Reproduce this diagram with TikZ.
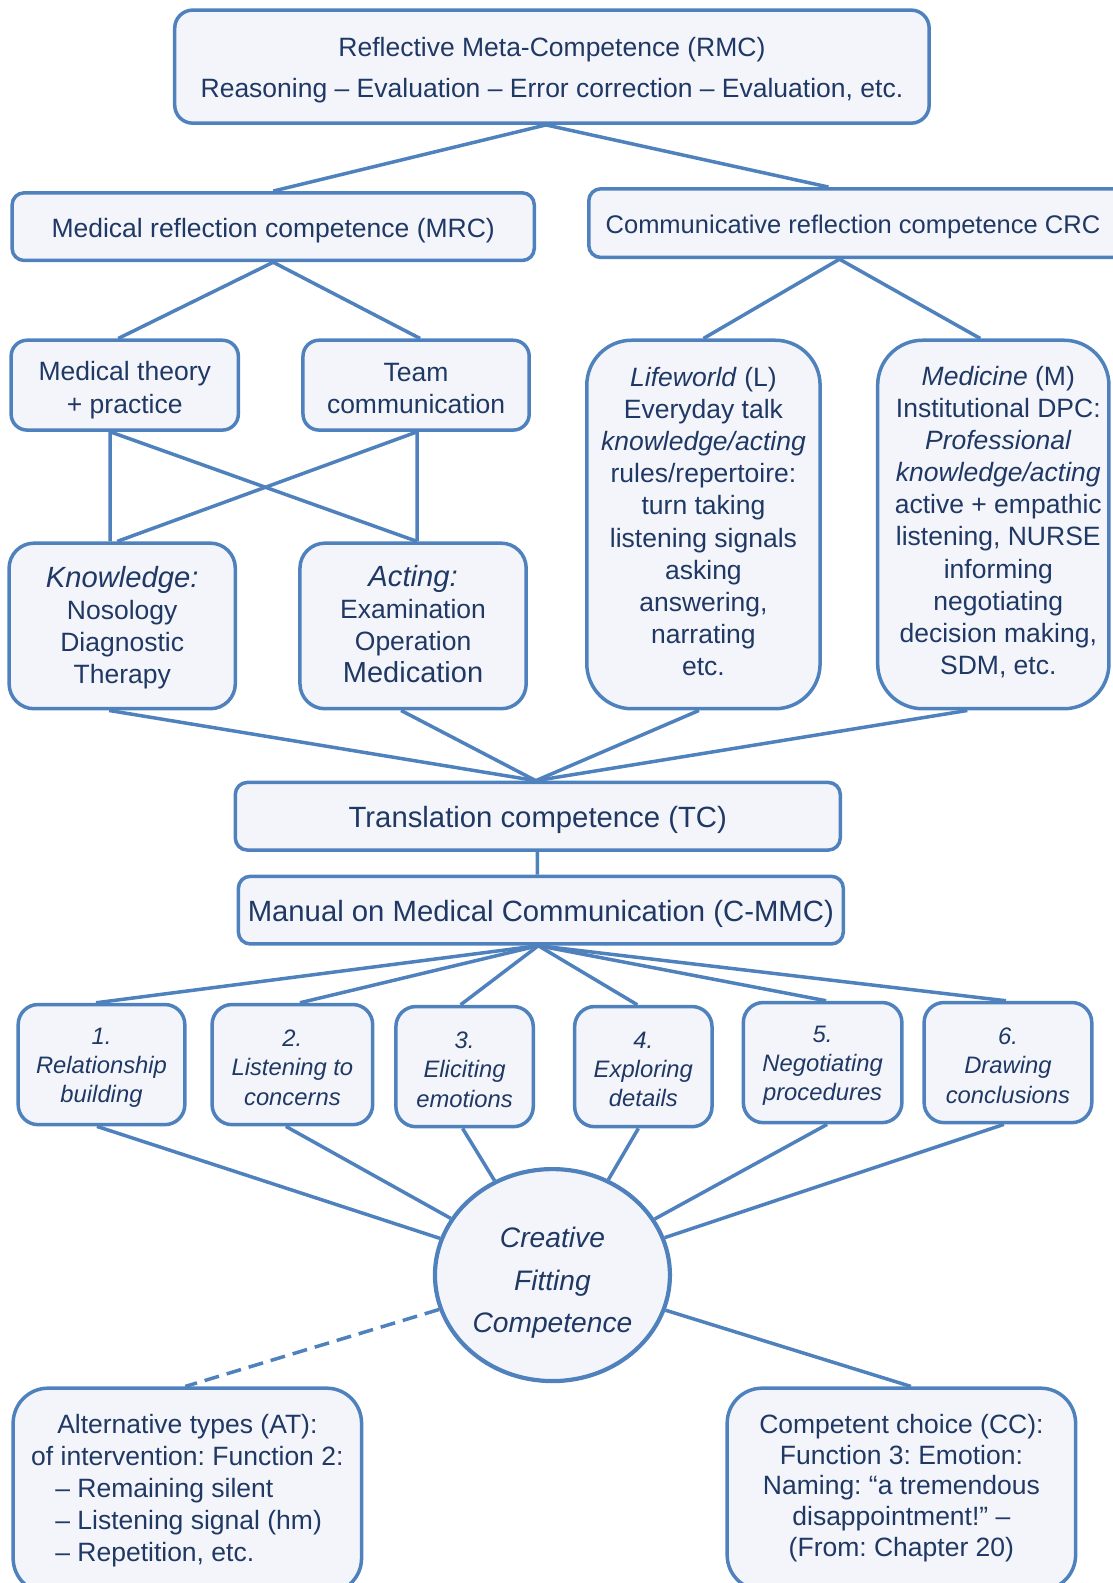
\documentclass[tikz,border=0pt]{standalone}
\usepackage{fontspec}
\setmainfont{Liberation Sans}
\frenchspacing
\usetikzlibrary{shapes.geometric,calc}
\definecolor{edge}{RGB}{79,129,189}
\definecolor{boxfill}{RGB}{243,245,251}
\definecolor{ink}{RGB}{31,56,100}

\tikzset{
  frame/.style n args={4}{
    minimum width={(#3-#1)*1.01pt},
    minimum height={(#4-#2)*1.0096pt},
    at={({(#1+#3)/2},{(#2+#4)/2})}},
  box/.style={draw=edge, fill=boxfill, line width=3.5pt, inner sep=0pt},
  txt/.style={text=ink, align=center, inner sep=0pt,
    font=\fontsize{26.5}{32.1}\selectfont},
  steptxt/.style={txt, font=\fontsize{23.8}{29.3}\selectfont\itshape},
  stepbox/.style={box, rounded corners=20pt},
  link/.style={draw=edge, line width=3.5pt},
}
% text of a box, placed on its centre with a vertical/horizontal offset
\newcommand\boxtext[5][]{%
  \node[txt,#1] (#2-t) at ([xshift=#3pt,yshift=#4pt]#2.center) {#5};}

\begin{document}
\begin{tikzpicture}[x=1.01pt,y=-1.0096pt]
\useasboundingbox (0,0) rectangle (1102,1568);

% top level
\node[box, frame={173}{10}{920}{122}, rounded corners=18pt] (rmc) {};
\boxtext[font=\fontsize{26.5}{40.4}\selectfont]{rmc}{0}{-3.5}
  {Reflective Meta-Competence (RMC)\\Reasoning -- Evaluation -- Error correction -- Evaluation, etc.}

% second level
\node[box, frame={12}{191}{529}{258}, rounded corners=12pt] (mrc) {};
\boxtext{mrc}{0}{-4}{Medical reflection competence (MRC)}
\node[box, frame={583}{187}{1115}{255}, rounded corners=12pt] (crc) {};
\boxtext[font=\fontsize{25.5}{31}\selectfont]{crc}{-4.5}{-4}{Communicative reflection competence CRC}

% medical branch
\node[box, frame={11}{337}{236}{426}, rounded corners=16pt] (mt) {};
\boxtext{mt}{0}{-5}{Medical theory\\+ practice}
\node[box, frame={300}{337}{524}{426}, rounded corners=16pt] (team) {};
\boxtext{team}{0}{-3}{Team\\communication}
\node[box, frame={9}{538}{233}{702}, rounded corners=25pt] (know) {};
\boxtext{know}{0}{-2}
  {{\fontsize{29.2}{32}\selectfont\itshape Knowledge:}\\Nosology\\Diagnostic\\Therapy}
\node[box, frame={297}{538}{521}{702}, rounded corners=25pt] (act) {};
\boxtext{act}{0}{2}
  {{\fontsize{29.2}{32}\selectfont\itshape Acting:}\\Examination\\Operation\\{\fontsize{29}{32}\selectfont Medication}}

% communicative branch
\node[box, frame={581}{337}{812}{702}, rounded corners=45pt] (life) {};
\boxtext{life}{0}{3}
  {\textit{Lifeworld} (L)\\Everyday talk\\\textit{knowledge/acting}\\rules/repertoire:\\turn taking\\listening signals\\asking\\answering,\\narrating\\etc.}
\node[box, frame={869}{337}{1098}{702}, rounded corners=45pt] (med) {};
\boxtext{med}{5}{2.5}
  {\textit{Medicine} (M)\\Institutional DPC:\\\textit{Professional}\\\textit{knowledge/acting}\\active + empathic\\listening, NURSE\\informing\\negotiating\\decision making,\\SDM, etc.}

% translation and manual
\node[box, frame={233}{775}{832}{842}, rounded corners=12pt] (tc) {};
\boxtext[font=\fontsize{29.3}{34}\selectfont]{tc}{0}{-4}{Translation competence (TC)}
\node[box, frame={236}{868}{835}{935}, rounded corners=12pt] (cmmc) {};
\boxtext[font=\fontsize{29.3}{34}\selectfont]{cmmc}{0}{-4}{Manual on Medical Communication (C-MMC)}

% six steps
\node[stepbox, frame={18}{995}{183}{1114}] (s1) {};
\boxtext[steptxt]{s1}{0}{-3}{1.\\Relationship\\building}
\node[stepbox, frame={210}{995}{369}{1114}] (s2) {};
\boxtext[steptxt]{s2}{0}{-3}{2.\\Listening to\\concerns}
\node[stepbox, frame={392}{997}{528}{1116}] (s3) {};
\boxtext[steptxt]{s3}{0}{-3}{3.\\Eliciting\\emotions}
\node[stepbox, frame={569}{997}{705}{1116}] (s4) {};
\boxtext[steptxt]{s4}{0}{-3}{4.\\Exploring\\details}
\node[stepbox, frame={736}{993}{893}{1112}] (s5) {};
\boxtext[steptxt]{s5}{0}{-3}{5.\\Negotiating\\procedures}
\node[stepbox, frame={915}{993}{1081}{1112}] (s6) {};
\boxtext[steptxt]{s6}{0}{-3}{6.\\Drawing\\conclusions}

% central competence
\node[box, ellipse, line width=4.2pt, minimum width=235pt, minimum height=212pt]
  (cfc) at (547,1263) {};
\boxtext[font=\fontsize{28.2}{42.4}\selectfont\itshape]{cfc}{0}{-8}
  {Creative\\Fitting\\Competence}

% outcomes
\node[box, frame={13}{1375}{358}{1578}, rounded corners=35pt] (at) {};
\boxtext[font=\fontsize{26.5}{31.8}\selectfont]{at}{0}{0}
  {Alternative types (AT):\\of intervention: Function 2:\\
   \makebox[264pt][l]{-- Remaining silent}\\
   \makebox[264pt][l]{-- Listening signal (hm)}\\
   \makebox[264pt][l]{-- Repetition, etc.}}
\node[box, frame={720}{1375}{1065}{1575}, rounded corners=35pt] (cc) {};
\boxtext[font=\fontsize{26.5}{30.8}\selectfont]{cc}{0}{1}
  {Competent choice (CC):\\Function 3: Emotion:\\Naming: “a tremendous\\disappointment!” --\\(From: Chapter 20)}

% connectors
\coordinate (rmcout) at ([xshift=-6pt]rmc.south);
\draw[link] (rmcout) -- (mrc.north);
\draw[link] (rmcout) -- ([xshift=-29pt]crc.north);

\draw[link] (mrc.south) -- ([xshift=-6.5pt]mt.north);
\draw[link] (mrc.south) -- ([xshift=4pt]team.north);

\coordinate (crcout) at ([xshift=-18pt]crc.south);
\draw[link] (crcout) -- (life.north);
\draw[link] (crcout) -- ([xshift=-13pt]med.north);

\coordinate (mtout) at ([xshift=-14.5pt]mt.south);
\coordinate (teamout) at ([xshift=1pt]team.south);
\draw[link] (mtout) -- ([xshift=-12pt]know.north);
\draw[link] (mtout) -- ([xshift=4pt]act.north);
\draw[link] (teamout) -- ([xshift=-5pt]know.north);
\draw[link] (teamout) -- ([xshift=4pt]act.north);

\coordinate (tcin) at ([xshift=-2pt]tc.north);
\draw[link] ([xshift=-13pt]know.south) -- (tcin);
\draw[link] ([xshift=-12pt]act.south) -- (tcin);
\draw[link] ([xshift=-4.5pt]life.south) -- (tcin);
\draw[link] ([xshift=-26pt]med.south) -- (tcin);

\draw[link] ([xshift=-0.5pt]tc.south) -- ([xshift=-3.5pt]cmmc.north);

\coordinate (cmmcout) at ([xshift=-2.5pt]cmmc.south);
\draw[link] (cmmcout) -- ([xshift=-5.5pt]s1.north);
\draw[link] (cmmcout) -- ([xshift=7.5pt]s2.north);
\draw[link] (cmmcout) -- ([xshift=-4pt]s3.north);
\draw[link] (cmmcout) -- ([xshift=-6pt]s4.north);
\draw[link] (cmmcout) -- ([xshift=3.5pt]s5.north);
\draw[link] (cmmcout) -- ([xshift=-2pt]s6.north);

\draw[link] ([xshift=-4.5pt]s1.south) -- (cfc);
\draw[link] ([xshift=-6.5pt]s2.south) -- (cfc);
\draw[link] ([xshift=-2pt]s3.south) -- (cfc);
\draw[link] ([xshift=-5pt]s4.south) -- (cfc);
\draw[link] ([xshift=4.5pt]s5.south) -- (cfc);
\draw[link] ([xshift=-4pt]s6.south) -- (cfc);

\draw[link, dash pattern=on 15pt off 8pt] (cfc) -- ([xshift=-2pt]at.north);
\draw[link] (cfc) -- ([xshift=9.5pt]cc.north);
\end{tikzpicture}
\end{document}
